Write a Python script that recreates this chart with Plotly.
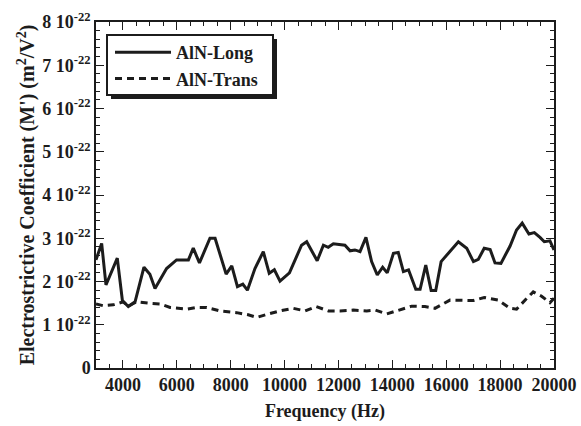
import numpy as np
import plotly.graph_objects as go

# Electrostrictive coefficient M' of AlN versus frequency
SCALE = 1e-22  # values below are given in units of 1e-22 m^2/V^2

freq_long = [3000, 3210, 3370, 3790, 3980, 4200, 4450, 4780, 5000, 5190,
             5620, 5990, 6430, 6610, 6840, 7230, 7420, 7830, 8040, 8250,
             8450, 8620, 8900, 9210, 9430, 9620, 9830, 10180, 10630, 10820,
             11210, 11440, 11620, 11810, 12240, 12430, 12610, 12800, 13020, 13230,
             13440, 13640, 13810, 14040, 14220, 14410, 14600, 14870, 15030, 15240,
             15440, 15610, 15810, 16180, 16450, 16760, 17010, 17190, 17410, 17630,
             17810, 18030, 18370, 18610, 18820, 19070, 19270, 19480, 19640, 19850,
             20000]
m_long = [2.50, 2.88, 1.92, 2.54, 1.56, 1.42, 1.53, 2.33, 2.17, 1.84,
          2.30, 2.50, 2.50, 2.77, 2.43, 3.00, 3.00, 2.17, 2.36, 1.88,
          1.94, 1.80, 2.30, 2.69, 2.19, 2.27, 2.01, 2.20, 2.84, 2.92,
          2.48, 2.84, 2.79, 2.87, 2.84, 2.71, 2.73, 2.69, 3.02, 2.46,
          2.15, 2.33, 2.20, 2.65, 2.67, 2.23, 2.27, 1.82, 1.82, 2.38,
          1.79, 1.79, 2.46, 2.73, 2.92, 2.77, 2.46, 2.51, 2.77, 2.74,
          2.43, 2.42, 2.82, 3.19, 3.35, 3.10, 3.13, 3.02, 2.92, 2.94,
          2.73]

freq_trans = [3000, 3270, 3640, 4010, 4200, 4510, 4940, 5380, 5750, 6370,
              6740, 7110, 7600, 8220, 8650, 8970, 9400, 9830, 10320, 10760,
              11170, 11620, 12060, 12550, 13050, 13360, 13790, 14240, 14720, 15210,
              15580, 16140, 16570, 17010, 17410, 17930, 18370, 18610, 18990, 19230,
              19540, 19850, 20000]
m_trans = [1.48, 1.44, 1.46, 1.53, 1.43, 1.53, 1.50, 1.48, 1.40, 1.36,
           1.40, 1.40, 1.32, 1.28, 1.23, 1.17, 1.25, 1.32, 1.38, 1.32,
           1.42, 1.32, 1.32, 1.34, 1.32, 1.34, 1.25, 1.34, 1.43, 1.42,
           1.38, 1.57, 1.56, 1.56, 1.63, 1.57, 1.38, 1.36, 1.61, 1.76,
           1.66, 1.51, 1.61]

y_tick_mult = [0, 1, 2, 3, 4, 5, 6, 7, 8]
y_tick_vals = [k * SCALE for k in y_tick_mult]
y_tick_text = ["0"] + [f"{k} 10<sup>-22</sup>" for k in y_tick_mult[1:]]

FONT = "Liberation Serif, Times New Roman, serif"
INK = "#1c1c1c"

fig = go.Figure()
fig.add_trace(go.Scatter(
    x=freq_long, y=np.array(m_long) * SCALE, mode="lines", name="AlN-Long",
    line=dict(color=INK, width=3),
))
fig.add_trace(go.Scatter(
    x=freq_trans, y=np.array(m_trans) * SCALE, mode="lines", name="AlN-Trans",
    line=dict(color=INK, width=3, dash="7px,5px"),
))

# legend frame with a drop shadow
fig.add_shape(type="rect", xref="paper", yref="paper",
              x0=(111 - 96) / 458, x1=(277 - 96) / 458,
              y0=(368 - 99) / 346, y1=(368 - 39) / 346,
              fillcolor=INK, line=dict(width=0), layer="above")
fig.add_shape(type="rect", xref="paper", yref="paper",
              x0=(107 - 96) / 458, x1=(273 - 96) / 458,
              y0=(368 - 95) / 346, y1=(368 - 35) / 346,
              fillcolor="white", line=dict(color=INK, width=2), layer="above")

axis_common = dict(
    showline=True, linecolor=INK, linewidth=1.5, mirror="allticks",
    ticks="inside", ticklen=8, tickwidth=1.2, tickcolor=INK,
    showgrid=False, zeroline=False, automargin=False,
    tickfont=dict(family=FONT, size=18, color=INK, weight="bold"),
)

fig.update_xaxes(
    range=[3000, 20000], tick0=0, dtick=2000, tickformat="d",
    minor=dict(dtick=500, ticks="inside", ticklen=4, tickwidth=1, tickcolor=INK),
    title_text="Frequency (Hz)", title_standoff=10,
    title_font=dict(family=FONT, size=18, color=INK, weight="bold"),
    **axis_common,
)
fig.update_yaxes(
    range=[0, 8e-22], tickvals=y_tick_vals, ticktext=y_tick_text,
    minor=dict(tickvals=[k * 0.2 * SCALE for k in range(41)], ticks="inside",
               ticklen=4, tickwidth=1, tickcolor=INK),
    title_text="Electrostrictive Coefficient (M') (m<sup>2</sup>/V<sup>2</sup>)",
    title_standoff=2,
    title_font=dict(family=FONT, size=20, color=INK, weight="bold"),
    **axis_common,
)

fig.update_layout(
    width=581, height=426,
    margin=dict(l=96, r=27, t=22, b=58),
    paper_bgcolor="white", plot_bgcolor="white",
    font=dict(family=FONT, color=INK),
    showlegend=True,
    legend=dict(
        x=(110 - 96) / 458, y=(368 - 34) / 346, xanchor="left", yanchor="top",
        bgcolor="rgba(0,0,0,0)", borderwidth=0,
        font=dict(family=FONT, size=18, color=INK, weight="bold"),
        itemwidth=56, tracegroupgap=0,
    ),
)

fig.write_html("out.html")
